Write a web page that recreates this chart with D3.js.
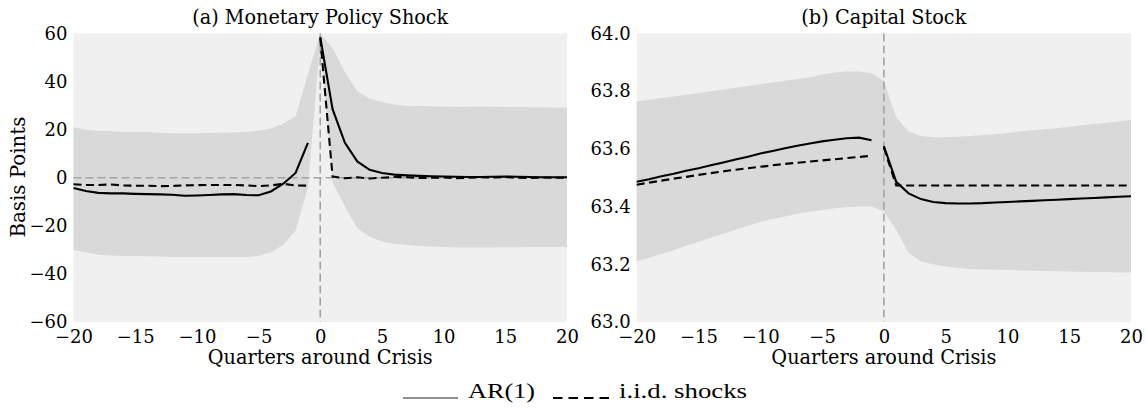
<!DOCTYPE html>
<html>
<head>
<meta charset="utf-8">
<script src="https://cdn.jsdelivr.net/npm/d3@7"></script>
<style>
  html, body { margin: 0; padding: 0; background: #fff; }
  svg { display: block; }
</style>
</head>
<body>
<svg id="chart" width="1147" height="414"></svg>
<script>
// ---------------- DATA ----------------
const quarters = [-20,-19,-18,-17,-16,-15,-14,-13,-12,-11,-10,-9,-8,-7,-6,-5,-4,-3,-2,-1,0,1,2,3,4,5,6,7,8,9,10,11,12,13,14,15,16,17,18,19,20];
const preQuarters = [-20,-19,-18,-17,-16,-15,-14,-13,-12,-11,-10,-9,-8,-7,-6,-5,-4,-3,-2,-1];
const postQuarters = [0,1,2,3,4,5,6,7,8,9,10,11,12,13,14,15,16,17,18,19,20];
const xTicks = [-20,-15,-10,-5,0,5,10,15,20];

// Panel (a) Monetary Policy Shock (basis points)
const mpBandUpper = [21,20,19.5,19.3,19,19,19,18.7,18.5,18.5,18.5,18.7,18.7,18.8,19,19.5,20.5,22.5,25.6,43,60,54,44,36,33,31.5,30.5,30,29.8,29.7,29.6,29.5,29.5,29.6,29.5,29.5,29.4,29.3,29.3,29.2,29.2];
const mpBandLower = [-30,-31,-32,-32.3,-32.5,-32.5,-32.7,-32.8,-33,-33,-33,-33,-33,-33,-33,-32.5,-31,-28,-22,-4,57,-2,-12,-21,-24.5,-26.5,-27.5,-28,-28.4,-28.6,-28.8,-29,-29,-29,-29,-28.9,-28.9,-28.8,-28.8,-28.8,-28.8];
const mpAR1Pre = [-4.3,-5.5,-6.3,-6.5,-6.5,-6.7,-6.8,-6.9,-7.1,-7.5,-7.4,-7.2,-6.9,-6.8,-7.2,-7.3,-5.7,-2.5,2,14.5];
const mpAR1Post = [58.5,28.5,14.5,6.8,3.3,2,1.3,1,0.8,0.6,0.5,0.4,0.3,0.3,0.4,0.5,0.4,0.3,0.2,0.2,0.2];
const mpIIDPre = [-2.7,-3,-3,-2.8,-3.2,-3.3,-3.3,-3.5,-3.4,-3.2,-3.1,-3,-3,-3,-3.2,-3.5,-3.2,-2.5,-3.2,-3.3];
const mpIIDPost = [58,0.5,-0.2,0.2,-0.3,0,0.3,0.2,-0.1,0,0.1,-0.2,0,0.2,0.1,0.3,0,-0.1,0.1,0,0];
const mpYTicks = [-60,-40,-20,0,20,40,60];

// Panel (b) Capital Stock
const ksBandUpper = [63.764,63.770,63.776,63.782,63.788,63.794,63.800,63.806,63.812,63.818,63.824,63.830,63.836,63.842,63.848,63.858,63.865,63.868,63.868,63.862,63.835,63.710,63.660,63.645,63.640,63.640,63.642,63.645,63.648,63.651,63.655,63.660,63.665,63.668,63.672,63.677,63.682,63.686,63.690,63.695,63.700];
const ksBandLower = [63.211,63.222,63.236,63.250,63.264,63.278,63.292,63.306,63.320,63.334,63.347,63.357,63.366,63.375,63.382,63.388,63.394,63.398,63.400,63.400,63.383,63.320,63.240,63.210,63.200,63.192,63.187,63.184,63.182,63.181,63.180,63.179,63.178,63.177,63.176,63.175,63.174,63.173,63.173,63.172,63.172];
const ksAR1Pre = [63.486,63.495,63.505,63.514,63.524,63.533,63.543,63.553,63.563,63.573,63.584,63.593,63.602,63.611,63.619,63.626,63.632,63.637,63.639,63.630];
const ksAR1Post = [63.610,63.486,63.446,63.426,63.416,63.412,63.411,63.411,63.412,63.414,63.416,63.418,63.420,63.422,63.424,63.426,63.428,63.430,63.432,63.434,63.436];
const ksIIDPre = [63.476,63.483,63.490,63.497,63.503,63.510,63.516,63.522,63.528,63.533,63.538,63.543,63.548,63.552,63.556,63.560,63.564,63.568,63.572,63.576];
const ksIIDPost = [63.605,63.473,63.473,63.473,63.473,63.473,63.473,63.473,63.473,63.473,63.473,63.473,63.473,63.473,63.473,63.473,63.473,63.473,63.473,63.473,63.473];
const ksYTicks = [63.0,63.2,63.4,63.6,63.8,64.0];

const titles = ["(a) Monetary Policy Shock", "(b) Capital Stock"];
const xLabel = "Quarters around Crisis";
const yLabel = "Basis Points";
const legendLabels = ["AR(1)", "i.i.d. shocks"];

// ---------------- DRAW ----------------
const svg = d3.select("#chart");
const TOP = 33.5, BOTTOM = 322;
const serif = "'DejaVu Serif', 'Liberation Serif', serif";

const panels = [
  { left: 73.5, right: 567, domain: [-60, 60], yTicks: mpYTicks, fmt: d3.format("d"),
    up: mpBandUpper, lo: mpBandLower, arPre: mpAR1Pre, arPost: mpAR1Post, iidPre: mpIIDPre, iidPost: mpIIDPost,
    zeroLine: true, title: titles[0], titleW: 256, ylab: yLabel },
  { left: 636.7, right: 1131, domain: [63.0, 64.0], yTicks: ksYTicks, fmt: d3.format(".1f"),
    up: ksBandUpper, lo: ksBandLower, arPre: ksAR1Pre, arPost: ksAR1Post, iidPre: ksIIDPre, iidPost: ksIIDPost,
    zeroLine: false, title: titles[1], titleW: 165, ylab: null }
];

panels.forEach(p => {
  const x = d3.scaleLinear().domain([-20, 20]).range([p.left, p.right]);
  const y = d3.scaleLinear().domain(p.domain).range([BOTTOM, TOP]);
  const g = svg.append("g");

  g.append("rect").attr("x", p.left).attr("y", TOP)
    .attr("width", p.right - p.left).attr("height", BOTTOM - TOP).attr("fill", "#f0f0f0");

  const band = quarters.map((q, i) => ({ q, u: p.up[i], l: p.lo[i] }));
  g.append("path").datum(band)
    .attr("fill", "#d9d9d9")
    .attr("d", d3.area().x(d => x(d.q)).y0(d => y(d.l)).y1(d => y(d.u)));

  // reference lines
  if (p.zeroLine) {
    g.append("line").attr("x1", p.left).attr("x2", p.right)
      .attr("y1", y(0)).attr("y2", y(0))
      .attr("stroke", "#a4a4a4").attr("stroke-width", 1.6).attr("stroke-dasharray", "8,4");
  }
  g.append("line").attr("x1", x(0)).attr("x2", x(0))
    .attr("y1", TOP).attr("y2", BOTTOM)
    .attr("stroke", "#a4a4a4").attr("stroke-width", 1.6).attr("stroke-dasharray", "8,4");

  const line = d3.line().x(d => x(d[0])).y(d => y(d[1]));
  const series = [
    [preQuarters, p.arPre, null],
    [postQuarters, p.arPost, null],
    [preQuarters, p.iidPre, "8,4.5"],
    [postQuarters, p.iidPost, "8,4.5"]
  ];
  series.forEach(([qs, vals, dash]) => {
    g.append("path").datum(qs.map((q, i) => [q, vals[i]]))
      .attr("fill", "none").attr("stroke", "#000").attr("stroke-width", 2.1)
      .attr("stroke-dasharray", dash)
      .attr("d", line);
  });

  // axes
  const ax = g.append("g").attr("transform", `translate(0,${BOTTOM})`)
    .call(d3.axisBottom(x).tickValues(xTicks).tickSize(0).tickPadding(8).tickFormat(d3.format("d")));
  const ay = g.append("g").attr("transform", `translate(${p.left},0)`)
    .call(d3.axisLeft(y).tickValues(p.yTicks).tickSize(0).tickPadding(6).tickFormat(p.fmt));
  [ax, ay].forEach(a => {
    a.select(".domain").remove();
    a.selectAll("text").attr("font-family", serif).attr("font-size", 18).attr("fill", "#000");
  });

  g.append("text").attr("x", (p.left + p.right) / 2).attr("y", 24)
    .attr("text-anchor", "middle").attr("font-family", serif).attr("font-size", 20)
    .attr("textLength", p.titleW).attr("lengthAdjust", "spacingAndGlyphs")
    .text(p.title);
  g.append("text").attr("x", (p.left + p.right) / 2).attr("y", 364)
    .attr("text-anchor", "middle").attr("font-family", serif).attr("font-size", 19.5)
    .attr("textLength", 225).attr("lengthAdjust", "spacingAndGlyphs")
    .text(xLabel);
  if (p.ylab) {
    g.append("text").attr("transform", `translate(25,177) rotate(-90)`)
      .attr("text-anchor", "middle").attr("font-family", serif).attr("font-size", 20)
      .attr("textLength", 121).attr("lengthAdjust", "spacingAndGlyphs")
      .text(p.ylab);
  }
});

// legend
const lg = svg.append("g");
const legY = 398;
const legendFont = "'Liberation Serif', serif";
lg.append("line").attr("x1", 403).attr("x2", 458).attr("y1", legY).attr("y2", legY)
  .attr("stroke", "#222").attr("stroke-width", 1);
lg.append("text").attr("x", 468).attr("y", legY).attr("font-family", legendFont)
  .attr("font-size", 22).attr("textLength", 67).attr("lengthAdjust", "spacingAndGlyphs")
  .text(legendLabels[0]);
lg.append("line").attr("x1", 553).attr("x2", 609).attr("y1", legY).attr("y2", legY)
  .attr("stroke", "#000").attr("stroke-width", 2).attr("stroke-dasharray", "9.5,6");
lg.append("text").attr("x", 619).attr("y", legY).attr("font-family", legendFont)
  .attr("font-size", 22).attr("textLength", 128).attr("lengthAdjust", "spacingAndGlyphs")
  .text(legendLabels[1]);
</script>
</body>
</html>
